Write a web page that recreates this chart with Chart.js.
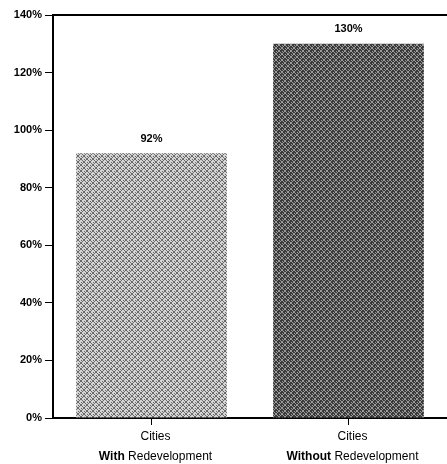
<!DOCTYPE html>
<html>
<head>
<meta charset="utf-8">
<script src="https://cdn.jsdelivr.net/npm/chart.js@4/dist/chart.umd.min.js"></script>
<style>
  html, body { margin: 0; padding: 0; background: #fff; }
  #wrap { width: 447px; height: 464px; }
</style>
</head>
<body>
<div id="wrap"><canvas id="c"></canvas></div>
<script>
const categories = ["With", "Without"];
const categoryLine1 = ["Cities", "Cities"];
const categoryLine2 = ["Redevelopment", "Redevelopment"];
const values = [92, 130];
const yTicks = [0, 20, 40, 60, 80, 100, 120, 140];

const NARROW = "'Liberation Sans Narrow', 'Arial Narrow', 'Liberation Sans', sans-serif";

// little halftone-like tiles for the bar fills
function makePattern(bg, ink) {
  const p = document.createElement("canvas");
  p.width = 6; p.height = 6;
  const g = p.getContext("2d");
  g.fillStyle = bg;
  g.fillRect(0, 0, 6, 6);
  g.fillStyle = ink;
  for (let i = 0; i < 6; i++) {
    g.fillRect(i, i, 1, 1);
    g.fillRect(i, 5 - i, 1, 1);
  }
  g.fillRect(0, 3, 1, 1);
  g.fillRect(3, 0, 1, 1);
  return g.createPattern(p, "repeat");
}

const lightFill = makePattern("#d4d4d4", "#6a6a6a");
const darkFill = makePattern("#3a3a3a", "#9a9a9a");

const extras = {
  id: "extras",
  afterDraw(chart) {
    const { ctx, chartArea } = chart;
    const xs = chart.scales.x;
    ctx.save();
    // top border line
    ctx.strokeStyle = "#000";
    ctx.lineWidth = 2;
    ctx.beginPath();
    ctx.moveTo(chartArea.left, chartArea.top);
    ctx.lineTo(chartArea.right, chartArea.top);
    ctx.stroke();

    // value labels
    const meta = chart.getDatasetMeta(0);
    ctx.fillStyle = "#000";
    ctx.font = "bold 11px " + NARROW;
    ctx.textAlign = "center";
    ctx.textBaseline = "bottom";
    meta.data.forEach((bar, i) => {
      ctx.fillText(values[i] + "%", bar.x, bar.y - 9);
    });

    // two-line category labels, first word of line 2 bold
    categories.forEach((c, i) => {
      const x = xs.getPixelForValue(i) + 4;
      ctx.textAlign = "center";
      ctx.textBaseline = "alphabetic";
      ctx.font = "12px " + NARROW;
      ctx.fillText(categoryLine1[i], x, 440);
      const boldTxt = c + " ";
      ctx.font = "bold 12px " + NARROW;
      const wb = ctx.measureText(boldTxt).width;
      ctx.font = "12px " + NARROW;
      const wr = ctx.measureText(categoryLine2[i]).width;
      const start = x - (wb + wr) / 2;
      ctx.textAlign = "left";
      ctx.font = "bold 12px " + NARROW;
      ctx.fillText(boldTxt, start, 460);
      ctx.font = "12px " + NARROW;
      ctx.fillText(categoryLine2[i], start + wb, 460);
    });
    ctx.restore();
  }
};

new Chart(document.getElementById("c"), {
  type: "bar",
  data: {
    labels: categories,
    datasets: [{
      data: values,
      backgroundColor: [lightFill, darkFill],
      borderWidth: 0,
      barPercentage: 0.88,
      categoryPercentage: 0.87
    }]
  },
  options: {
    responsive: true,
    maintainAspectRatio: false,
    animation: false,
    layout: { padding: { top: 15, right: 0, left: 0, bottom: 0 } },
    plugins: {
      legend: { display: false },
      tooltip: { enabled: false }
    },
    scales: {
      x: {
        grid: { drawOnChartArea: false, offset: false, color: "#000", tickLength: 7, lineWidth: 1 },
        border: { color: "#000", width: 2 },
        ticks: { callback: () => "" },
        afterFit: (s) => { s.height = 46; }
      },
      y: {
        min: 0,
        max: 140,
        afterBuildTicks: (s) => { s.ticks = yTicks.map(v => ({ value: v })); },
        grid: { drawOnChartArea: false, color: "#000", tickLength: 8, lineWidth: 1 },
        border: { color: "#000", width: 2 },
        ticks: {
          color: "#000",
          padding: 3,
          font: { family: NARROW, size: 11, weight: "bold" },
          callback: (v) => v + "%"
        },
        afterFit: (s) => { s.width = 53; }
      }
    }
  },
  plugins: [extras]
});
</script>
</body>
</html>
